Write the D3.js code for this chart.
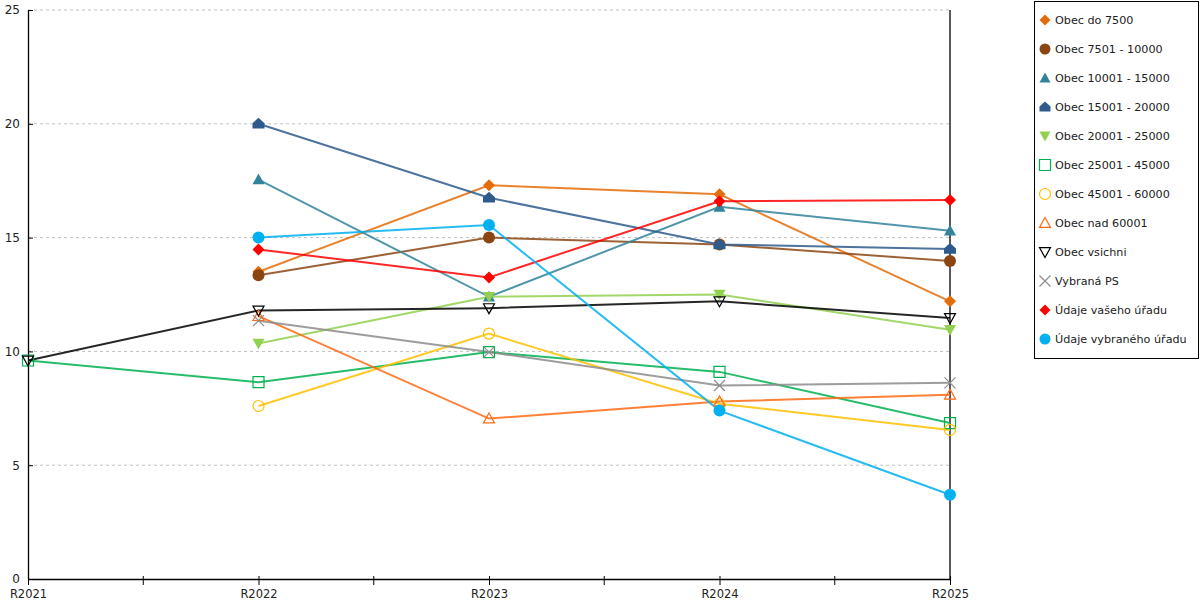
<!DOCTYPE html>
<html>
<head>
<meta charset="utf-8">
<script src="https://cdn.jsdelivr.net/npm/d3@7.9.0/dist/d3.min.js"></script>
<style>
  body { margin: 0; background: #fff; }
  svg text { font-family: "DejaVu Sans", Verdana, sans-serif; }
</style>
</head>
<body>
<svg id="chart" width="1200" height="600"></svg>
<script>
// categories and tick labels
const years = ['R2021', 'R2022', 'R2023', 'R2024', 'R2025'];
const yTicks = [0, 5, 10, 15, 20, 25];

// series values (null = no value for that year)
const obecDo7500      = [null, 13.5, 17.3, 16.9, 12.2];
const obec7501_10000  = [null, 13.35, 15.0, 14.7, 13.97];
const obec10001_15000 = [null, 17.55, 12.4, 16.35, 15.3];
const obec15001_20000 = [null, 20.0, 16.75, 14.7, 14.5];
const obec20001_25000 = [null, 10.35, 12.4, 12.5, 10.95];
const obec25001_45000 = [9.6, 8.65, 9.97, 9.1, 6.85];
const obec45001_60000 = [null, 7.6, 10.78, 7.7, 6.55];
const obecNad60001    = [null, 11.55, 7.05, 7.8, 8.1];
const obecVsichni     = [9.6, 11.8, 11.9, 12.2, 11.47];
const vybranaPS       = [null, 11.35, 9.97, 8.5, 8.62];
const udajeVaseho     = [null, 14.48, 13.25, 16.6, 16.65];
const udajeVybraneho  = [null, 15.0, 15.55, 7.4, 3.7];

const series = [
  { name: 'Obec do 7500',          values: obecDo7500,      color: '#e46c0a', shape: 'diamond', fill: true },
  { name: 'Obec 7501 - 10000',     values: obec7501_10000,  color: '#8b4513', shape: 'circle',  fill: true },
  { name: 'Obec 10001 - 15000',    values: obec10001_15000, color: '#31849b', shape: 'triangle', fill: true },
  { name: 'Obec 15001 - 20000',    values: obec15001_20000, color: '#2f5a8c', shape: 'house',   fill: true },
  { name: 'Obec 20001 - 25000',    values: obec20001_25000, color: '#92d050', shape: 'down',    fill: true },
  { name: 'Obec 25001 - 45000',    values: obec25001_45000, color: '#00b050', shape: 'square',  fill: false },
  { name: 'Obec 45001 - 60000',    values: obec45001_60000, color: '#ffc000', shape: 'circle',  fill: false },
  { name: 'Obec nad 60001',        values: obecNad60001,    color: '#ff6a14', shape: 'triangle', fill: false },
  { name: 'Obec vsichni',          values: obecVsichni,     color: '#000000', shape: 'down',    fill: false },
  { name: 'Vybraná PS',            values: vybranaPS,       color: '#8c8c8c', shape: 'cross',   fill: false },
  { name: 'Údaje vašeho úřadu',    values: udajeVaseho,     color: '#ff0000', shape: 'diamond', fill: true },
  { name: 'Údaje vybraného úřadu', values: udajeVybraneho,  color: '#00b0f0', shape: 'circle',  fill: true }
];

const svg = d3.select('#chart');
const margin = { left: 28, right: 950, top: 10, bottom: 579 };

const x = d3.scalePoint().domain(years).range([margin.left, margin.right]);
const y = d3.scaleLinear().domain([0, 25]).range([margin.bottom, margin.top]);

// grid
svg.append('g')
  .selectAll('line')
  .data(yTicks.filter(d => d > 0))
  .join('line')
  .attr('x1', margin.left).attr('x2', margin.right)
  .attr('y1', d => y(d)).attr('y2', d => y(d))
  .attr('stroke', '#c0c0c0')
  .attr('stroke-dasharray', '3,3');

// right border line
svg.append('line')
  .attr('x1', margin.right).attr('x2', margin.right)
  .attr('y1', margin.top).attr('y2', margin.bottom)
  .attr('stroke', '#000').attr('stroke-width', 1.3);

// y axis
const yAxis = svg.append('g')
  .attr('transform', `translate(${margin.left},0)`)
  .call(d3.axisLeft(y).tickValues(yTicks).tickSize(5).tickSizeOuter(0));
yAxis.select('.domain').attr('stroke-width', 1.3);
yAxis.selectAll('.tick line').attr('x2', 5);
yAxis.selectAll('.tick text').attr('font-size', 12).attr('fill', '#222').attr('x', -8);

// x axis: ticks at categories and midway between them
const xAxis = svg.append('g')
  .attr('transform', `translate(0,${margin.bottom})`)
  .call(d3.axisBottom(x).tickSize(6).tickSizeOuter(0));
xAxis.select('.domain').attr('stroke-width', 1.3);
xAxis.selectAll('.tick line').attr('y1', -3);
xAxis.selectAll('.tick text').attr('font-size', 11.5).attr('fill', '#222').attr('dy', '0.9em');
const mids = d3.pairs(years).map(([a, b]) => (x(a) + x(b)) / 2);
xAxis.selectAll('.mid')
  .data(mids)
  .join('line')
  .attr('class', 'mid')
  .attr('x1', d => d).attr('x2', d => d)
  .attr('y1', -3).attr('y2', 6)
  .attr('stroke', '#000');

function markerPath(shape, s) {
  const h = s / 2;
  switch (shape) {
    case 'diamond': return `M0,${-h}L${h},0L0,${h}L${-h},0Z`;
    case 'triangle': return `M0,${-h}L${h},${h * 0.8}L${-h},${h * 0.8}Z`;
    case 'down': return `M${-h},${-h * 0.8}L${h},${-h * 0.8}L0,${h}Z`;
    case 'square': return `M${-h},${-h}L${h},${-h}L${h},${h}L${-h},${h}Z`;
    case 'house': return `M0,${-h}L${h},${-h * 0.1}L${h},${h * 0.8}L${-h},${h * 0.8}L${-h},${-h * 0.1}Z`;
    case 'cross': return `M${-h},${-h}L${h},${h}M${h},${-h}L${-h},${h}`;
    case 'circle': return d3.arc()({ innerRadius: 0, outerRadius: h, startAngle: 0, endAngle: 2 * Math.PI });
  }
}

const line = d3.line()
  .defined(d => d.v != null)
  .x(d => x(d.year))
  .y(d => y(d.v));

const plot = svg.append('g');
series.forEach(s => {
  const pts = years.map((yr, i) => ({ year: yr, v: s.values[i] }));
  plot.append('path')
    .datum(pts)
    .attr('d', line)
    .attr('fill', 'none')
    .attr('stroke', s.color)
    .attr('stroke-opacity', 0.85)
    .attr('stroke-width', 2);
});
series.forEach(s => {
  const pts = years.map((yr, i) => ({ year: yr, v: s.values[i] })).filter(d => d.v != null);
  const size = s.fill ? 12 : 11;
  plot.append('g')
    .selectAll('path')
    .data(pts)
    .join('path')
    .attr('transform', d => `translate(${x(d.year)},${y(d.v)})`)
    .attr('d', markerPath(s.shape, size))
    .attr('fill', s.fill ? s.color : 'none')
    .attr('stroke', s.color)
    .attr('stroke-width', s.fill ? 0 : 1.2);
});

// legend
const legend = svg.append('g').attr('transform', 'translate(1034,1)');
legend.append('rect')
  .attr('x', 0.5).attr('y', 0.5)
  .attr('width', 164).attr('height', 357)
  .attr('fill', '#fff').attr('stroke', '#000');
const items = legend.selectAll('g.item')
  .data(series)
  .join('g')
  .attr('class', 'item')
  .attr('transform', (d, i) => `translate(11,${19 + i * 29})`);
items.append('path')
  .attr('d', d => markerPath(d.shape, 11))
  .attr('fill', d => d.fill ? d.color : 'none')
  .attr('stroke', d => d.color)
  .attr('stroke-width', d => d.fill ? 0 : 1.2);
items.append('text')
  .attr('x', 10)
  .attr('dy', '0.35em')
  .attr('font-size', 11.2)
  .attr('fill', '#222')
  .text(d => d.name);
</script>
</body>
</html>
